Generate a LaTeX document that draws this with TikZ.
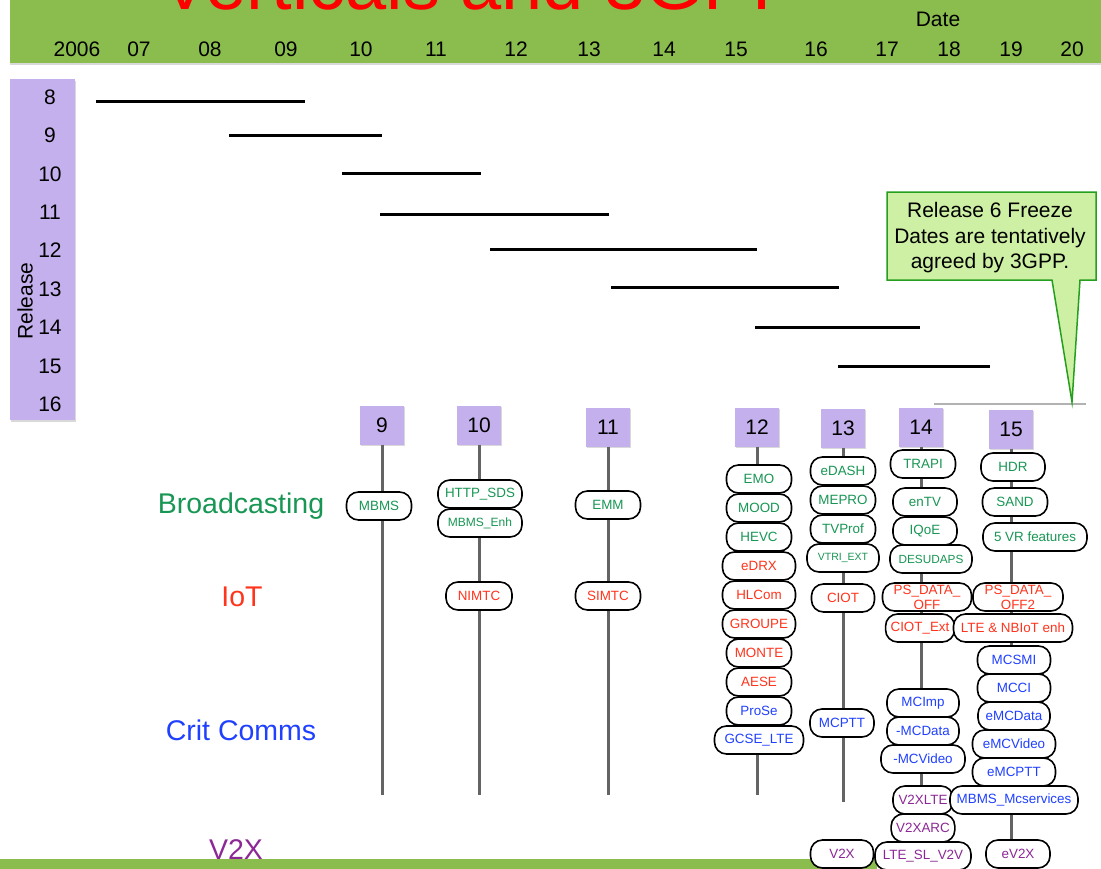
\documentclass[tikz,border=0pt]{standalone}
\usepackage{fontspec}
\setmainfont{Liberation Sans}
\usepackage{tikz}
\usetikzlibrary{positioning, shadows}

\definecolor{bargreen}{RGB}{138,188,78}
\definecolor{relpurple}{RGB}{196,176,236}
\definecolor{notefill}{RGB}{206,240,164}
\definecolor{noteline}{RGB}{38,158,30}
\definecolor{tgreen}{RGB}{24,150,84}
\definecolor{tred}{RGB}{255,52,28}
\definecolor{tblue}{RGB}{32,64,255}
\definecolor{tpurple}{RGB}{140,40,150}
\definecolor{stemgray}{RGB}{100,100,100}

\begin{document}
\begin{tikzpicture}[x=1pt, y=-1pt,
    relbox/.style={rectangle, fill=relpurple, minimum width=44pt, minimum height=39pt,
        font=\fontsize{21}{24}\selectfont,
        drop shadow={shadow xshift=1pt, shadow yshift=-1.5pt, opacity=0.3}},
    pill/.style={rectangle, rounded corners=12pt, draw, line width=1.6pt, fill=white,
        minimum width=65pt, minimum height=28pt, inner xsep=5pt, inner ysep=0pt,
        outer sep=0pt, font=\fontsize{13.4}{15}\selectfont},
    bcast/.style={pill, text=tgreen},
    iot/.style={pill, text=tred},
    crit/.style={pill, text=tblue},
    vtox/.style={pill, text=tpurple},
    stem/.style={draw=stemgray, line width=3pt},
    span/.style={draw=black, line width=3pt},
    year/.style={font=\fontsize{21}{25.5}\selectfont},
    vertical/.style={font=\fontsize{28.5}{32}\selectfont, anchor=base}]

    \useasboundingbox (0,0) rectangle (1101,868);

    % green bars
    \fill[bargreen, drop shadow={shadow xshift=0pt, shadow yshift=-2pt, opacity=0.3}]
        (10,-5) rectangle (1106,63);
    \fill[bargreen] (0,859) rectangle (877,873);

    \node[text=red, font=\fontsize{74}{80}\selectfont, anchor=base west] (title)
        at (157,9) {Verticals and 3GPP};

    \node[year] (date) at (938,19) {Date};
    \node[year] (d06) at (77,49) {2006};
    \node[year] (d07) at (139,49) {07};
    \node[year] (d08) at (210,49) {08};
    \node[year] (d09) at (286,49) {09};
    \node[year] (d10) at (361,49) {10};
    \node[year] (d11) at (436,49) {11};
    \node[year] (d12) at (516,49) {12};
    \node[year] (d13) at (589,49) {13};
    \node[year] (d14) at (664,49) {14};
    \node[year] (d15) at (736,49) {15};
    \node[year] (d16) at (816,49) {16};
    \node[year] (d17) at (887,49) {17};
    \node[year] (d18) at (949,49) {18};
    \node[year] (d19) at (1011,49) {19};
    \node[year] (d20) at (1072,49) {20};

    % release axis
    \fill[relpurple, drop shadow={shadow xshift=1pt, shadow yshift=-2pt, opacity=0.3}]
        (10,79) rectangle (75,420);
    \node[year, rotate=90] (release) at (25,301) {Release};
    \node[year] (n8) at (50,97) {8};
    \node[year] (n9) at (50,135) {9};
    \node[year] (n10) at (50,174) {10};
    \node[year] (n11) at (50,212) {11};
    \node[year] (n12) at (50,250) {12};
    \node[year] (n13) at (50,289) {13};
    \node[year] (n14) at (50,327) {14};
    \node[year] (n15) at (50,366) {15};
    \node[year] (n16) at (50,404) {16};

    \draw[span] (96,101) -- (305,101);
    \draw[span] (229,135) -- (382,135);
    \draw[span] (342,173) -- (481,173);
    \draw[span] (380,214) -- (609,214);
    \draw[span] (490,249) -- (757,249);
    \draw[span] (611,287) -- (839,287);
    \draw[span] (755,327) -- (920,327);
    \draw[span] (838,366) -- (990,366);
    \draw[draw=gray!60, line width=2.5pt] (934,404) -- (1086,404);

    % callout
    \filldraw[fill=notefill, draw=noteline, line width=1.5pt]
        (887,192) -- (1096,192) -- (1096,280) -- (1080,280) -- (1072,402)
        -- (1052,280) -- (887,280) -- cycle;
    \node[year, align=center] (note) at (990,238)
        {Release 6 Freeze\\Dates are tentatively\\agreed by 3GPP.};

    \node[vertical, text=tgreen] (bclabel) at (241,513) {Broadcasting};
    \node[vertical, text=tred] (iotlabel) at (242,606) {IoT};
    \node[vertical, text=tblue] (critlabel) at (241,740) {Crit Comms};
    \node[vertical, text=tpurple] (vtxlabel) at (236,859) {V2X};

    % release columns
    \node[relbox] (r9) at (382,425) {9};
    \node[relbox] (r10) at (479,425) {10};
    \node[relbox] (r11) at (608,427) {11};
    \node[relbox] (r12) at (757,427) {12};
    \node[relbox] (r13) at (843,428) {13};
    \node[relbox] (r14) at (921,427) {14};
    \node[relbox] (r15) at (1011,429) {15};

    \coordinate (e9) at (382,795);
    \coordinate (e10) at (479,795);
    \coordinate (e11) at (608,795);
    \coordinate (e12) at (757,795);
    \coordinate (e13) at (843,802);
    \coordinate (e14) at (921,850);
    \coordinate (e15) at (1011,850);

    \draw[stem] (r9) -- (e9);
    \draw[stem] (r10) -- (e10);
    \draw[stem] (r11) -- (e11);
    \draw[stem] (r12) -- (e12);
    \draw[stem] (r13) -- (e13);
    \draw[stem] (r14) -- (e14);
    \draw[stem] (r15) -- (e15);

    % 9
    \node[bcast] (mbms) at (379,506) {MBMS};

    % 10
    \node[bcast, minimum width=84pt] (httpsds) at (480,494) {HTTP\_SDS};
    \node[bcast, minimum width=84pt, font=\fontsize{12}{14}\selectfont] (mbmsenh)
        [below=1pt of httpsds] {MBMS\_Enh};
    \node[iot, minimum width=66pt] (nimtc) at (479,596) {NIMTC};

    % 11
    \node[bcast] (emm) at (608,505) {EMM};
    \node[iot] (simtc) at (608,596) {SIMTC};

    % 12
    \node[bcast] (emo) at (759,479) {EMO};
    \node[bcast] (mood) [below=1pt of emo] {MOOD};
    \node[bcast] (hevc) [below=1pt of mood] {HEVC};
    \node[iot, minimum width=73pt] (edrx) [below=1pt of hevc] {eDRX};
    \node[iot, minimum width=73pt] (hlcom) [below=1pt of edrx] {HLCom};
    \node[iot, minimum width=73pt] (groupe) [below=1pt of hlcom] {GROUPE};
    \node[iot] (monte) [below=1pt of groupe] {MONTE};
    \node[iot] (aese) [below=1pt of monte] {AESE};
    \node[crit] (prose) [below=1pt of aese] {ProSe};
    \node[crit, minimum width=89pt] (gcse) [below=1pt of prose] {GCSE\_LTE};

    % 13
    \node[bcast] (edash) at (843,471) {eDASH};
    \node[bcast] (mepro) [below=1pt of edash] {MEPRO};
    \node[bcast] (tvprof) [below=1pt of mepro] {TVProf};
    \node[bcast, minimum width=72pt, font=\fontsize{10.5}{12}\selectfont] (vtri)
        [below=1pt of tvprof] {VTRI\_EXT};
    \node[iot, minimum width=63pt] (ciot) at (843,598) {CIOT};
    \node[crit, minimum width=64pt] (mcptt) at (842,723) {MCPTT};
    \node[vtox, minimum width=63pt] (vtx) at (842,854) {V2X};

    % 14
    \node[bcast] (trapi) at (923,464) {TRAPI};
    \node[bcast, minimum width=64pt] (entv) at (925,502) {enTV};
    \node[bcast, minimum width=64pt] (iqoe) [below=1pt of entv] {IQoE};
    \node[bcast, minimum width=82pt, font=\fontsize{11.8}{14}\selectfont, xshift=6pt]
        (desudaps) [below=0pt of iqoe] {DESUDAPS};
    \node[iot, minimum width=89pt, align=center] (psdata) at (927,597) {PS\_DATA\_\\OFF};
    \node[iot, minimum width=66pt] (ciotext) at (920,628) {CIOT\_Ext};
    \node[crit, minimum width=72pt] (mcimp) at (923,703) {MCImp};
    \node[crit, minimum width=72pt] (mcdata) [below=0pt of mcimp] {-MCData};
    \node[crit, minimum width=84pt] (mcvideo) [below=0pt of mcdata] {-MCVideo};
    \node[vtox, minimum width=60pt] (vtxlte) at (923,800) {V2XLTE};
    \node[vtox, minimum width=60pt] (vtxarc) [below=0pt of vtxlte] {V2XARC};
    \node[vtox, minimum width=96pt] (ltesl) [below=0pt of vtxarc] {LTE\_SL\_V2V};

    % 15
    \node[bcast, minimum width=64pt] (hdr) at (1013,467) {HDR};
    \node[bcast] (sand) at (1015,502) {SAND};
    \node[bcast, minimum width=104pt] (vrfeat) at (1035,537) {5 VR features};
    \node[iot, minimum width=90pt, align=center] (psdata2) at (1018,597) {PS\_DATA\_\\OFF2};
    \node[iot, minimum width=119pt] (ltenb) at (1013,628) {LTE \& NBIoT enh};
    \node[crit, minimum width=73pt] (mcsmi) at (1014,660) {MCSMI};
    \node[crit, minimum width=73pt] (mcci) [below=0pt of mcsmi] {MCCI};
    \node[crit, minimum width=72pt] (emcdata) [below=0pt of mcci] {eMCData};
    \node[crit, minimum width=83pt] (emcvideo) [below=0pt of emcdata] {eMCVideo};
    \node[crit, minimum width=83pt] (emcptt) [below=0pt of emcvideo] {eMCPTT};
    \node[crit, minimum width=128pt] (mbmsmc) [below=0pt of emcptt] {MBMS\_Mcservices};
    \node[vtox, minimum width=64pt] (ev2x) at (1018,854) {eV2X};

\end{tikzpicture}
\end{document}
